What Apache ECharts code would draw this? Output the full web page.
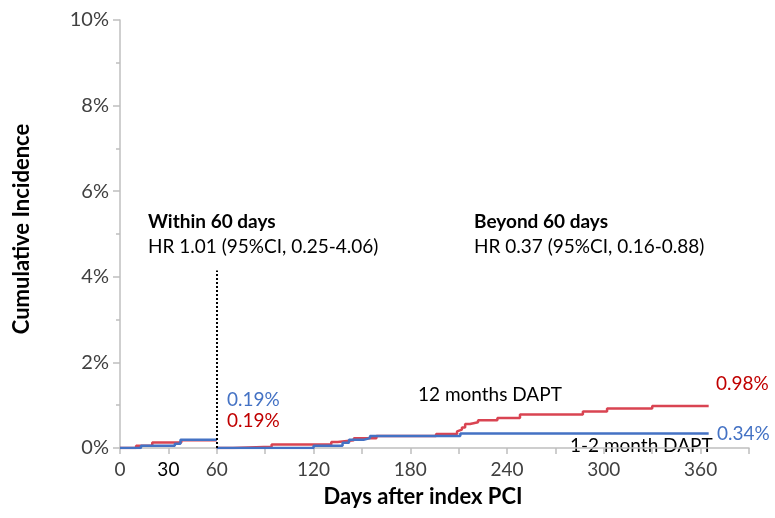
<!DOCTYPE html>
<html>
<head>
<meta charset="utf-8">
<script src="https://cdn.jsdelivr.net/npm/echarts@6/dist/echarts.min.js"></script>
<style>html,body{margin:0;padding:0;background:#fff}#c{width:775px;height:518px}</style>
</head>
<body>
<div id="c"></div>
<script>
// ---- data (days after index PCI, cumulative incidence %) ----
const redWithinDays = [0, 10, 20, 38, 60];
const redWithinInc  = [0, 0.05, 0.13, 0.18, 0.18];
const blueWithinDays = [0, 13, 34, 37.5, 60];
const blueWithinInc  = [0, 0.05, 0.10, 0.19, 0.19];
const redBeyondDays = [60, 70, 94, 131, 135, 145, 159, 196, 209, 210, 212, 214, 217, 222, 234, 248, 287, 302, 330, 365];
const redBeyondInc  = [0, 0.03, 0.08, 0.14, 0.18, 0.23, 0.28, 0.33, 0.39, 0.43, 0.48, 0.56, 0.60, 0.65, 0.70, 0.78, 0.85, 0.92, 0.98, 0.98];
const blueBeyondDays = [60, 120, 138, 142, 151, 155, 211, 365];
const blueBeyondInc  = [0, 0.05, 0.12, 0.19, 0.23, 0.28, 0.34, 0.34];
const landmarkDay = 60;
const landmarkTop = 4.15;
const xTicksLabelled = [0, 30, 60, 120, 180, 240, 300, 360];
const yTicks = [0, 2, 4, 6, 8, 10];

const RED = '#d94452', RED_TXT = '#c00000', BLUE = '#4472c4', AX = '#bfbfbf', LBL = '#404040';
const FONT = 'Lato, "Open Sans", sans-serif';

function pairs(xs, ys) { return xs.map((x, i) => [x, ys[i]]); }
function stepSeries(name, xs, ys, color, z) {
  return { name, type: 'line', step: 'end', showSymbol: false, symbol: 'none', z,
    lineStyle: { color, width: 2.5 }, data: pairs(xs, ys), animation: false };
}

const chart = echarts.init(document.getElementById('c'), null, { renderer: 'canvas' });
const series = [
  stepSeries('12 months DAPT', redWithinDays, redWithinInc, RED, 2),
  stepSeries('12 months DAPT b', redBeyondDays, redBeyondInc, RED, 2),
  stepSeries('1-2 month DAPT', blueWithinDays, blueWithinInc, BLUE, 3),
  stepSeries('1-2 month DAPT b', blueBeyondDays, blueBeyondInc, BLUE, 3)
];
series[0].markLine = {
  silent: true, symbol: 'none', label: { show: false },
  lineStyle: { color: '#000', type: [2, 2], width: 2 },
  data: [[{ coord: [landmarkDay, 0] }, { coord: [landmarkDay, landmarkTop] }]]
};

const txt = (text, x, y, o) => ({ type: 'text', x, y, style: Object.assign({ text, font: '19px ' + FONT, fill: '#000', textVerticalAlign: 'middle' }, o || {}) });

chart.setOption({
  animation: false,
  grid: { left: 120, right: 26, top: 20, bottom: 70 },
  xAxis: {
    type: 'value', min: 0, max: 390, interval: 30,
    axisLine: { lineStyle: { color: AX, width: 1.5 } },
    axisTick: { show: true, length: 6, lineStyle: { color: AX, width: 1.5 } },
    splitLine: { show: false },
    axisLabel: {
      margin: 12, color: LBL, fontSize: 19, fontFamily: FONT,
      formatter: v => (xTicksLabelled.indexOf(v) < 0 ? '' : (v === 30 ? '{b|30}' : String(v))),
      rich: { b: { color: '#000', fontSize: 19, fontFamily: FONT, padding: [0, 0, 5, 0] } }
    }
  },
  yAxis: {
    type: 'value', min: 0, max: 10, interval: 2,
    axisLine: { show: true, lineStyle: { color: AX, width: 1.5 } },
    axisTick: { show: true, length: 7, lineStyle: { color: AX, width: 1.5 } },
    minorTick: { show: true, splitNumber: 2, length: 4, lineStyle: { color: AX, width: 1.5 } },
    splitLine: { show: false },
    axisLabel: { margin: 11, color: LBL, fontSize: 20, fontFamily: FONT,
      formatter: v => (yTicks.indexOf(v) < 0 ? '' : v + '%') }
  },
  series,
  graphic: [
    txt('Within 60 days', 148, 222, { font: 'bold 19px ' + FONT }),
    txt('HR 1.01 (95%CI, 0.25-4.06)', 148, 247),
    txt('Beyond 60 days', 474, 222, { font: 'bold 19px ' + FONT }),
    txt('HR 0.37 (95%CI, 0.16-0.88)', 474, 247),
    txt('0.19%', 227, 400, { fill: BLUE }),
    txt('0.19%', 227, 421, { fill: RED_TXT }),
    txt('12 months DAPT', 418, 395),
    txt('0.98%', 716, 384, { fill: RED_TXT }),
    txt('0.34%', 717, 434, { fill: BLUE }),
    txt('1-2 month DAPT', 570, 446),
    txt('Days after index PCI', 423, 497, { font: 'bold 22px ' + FONT, textAlign: 'center' }),
    { type: 'text', x: 22, y: 229, rotation: Math.PI / 2,
      style: { text: 'Cumulative Incidence', font: 'bold 22px ' + FONT, fill: '#000', textAlign: 'center', textVerticalAlign: 'middle' } }
  ]
});
</script>
</body>
</html>
